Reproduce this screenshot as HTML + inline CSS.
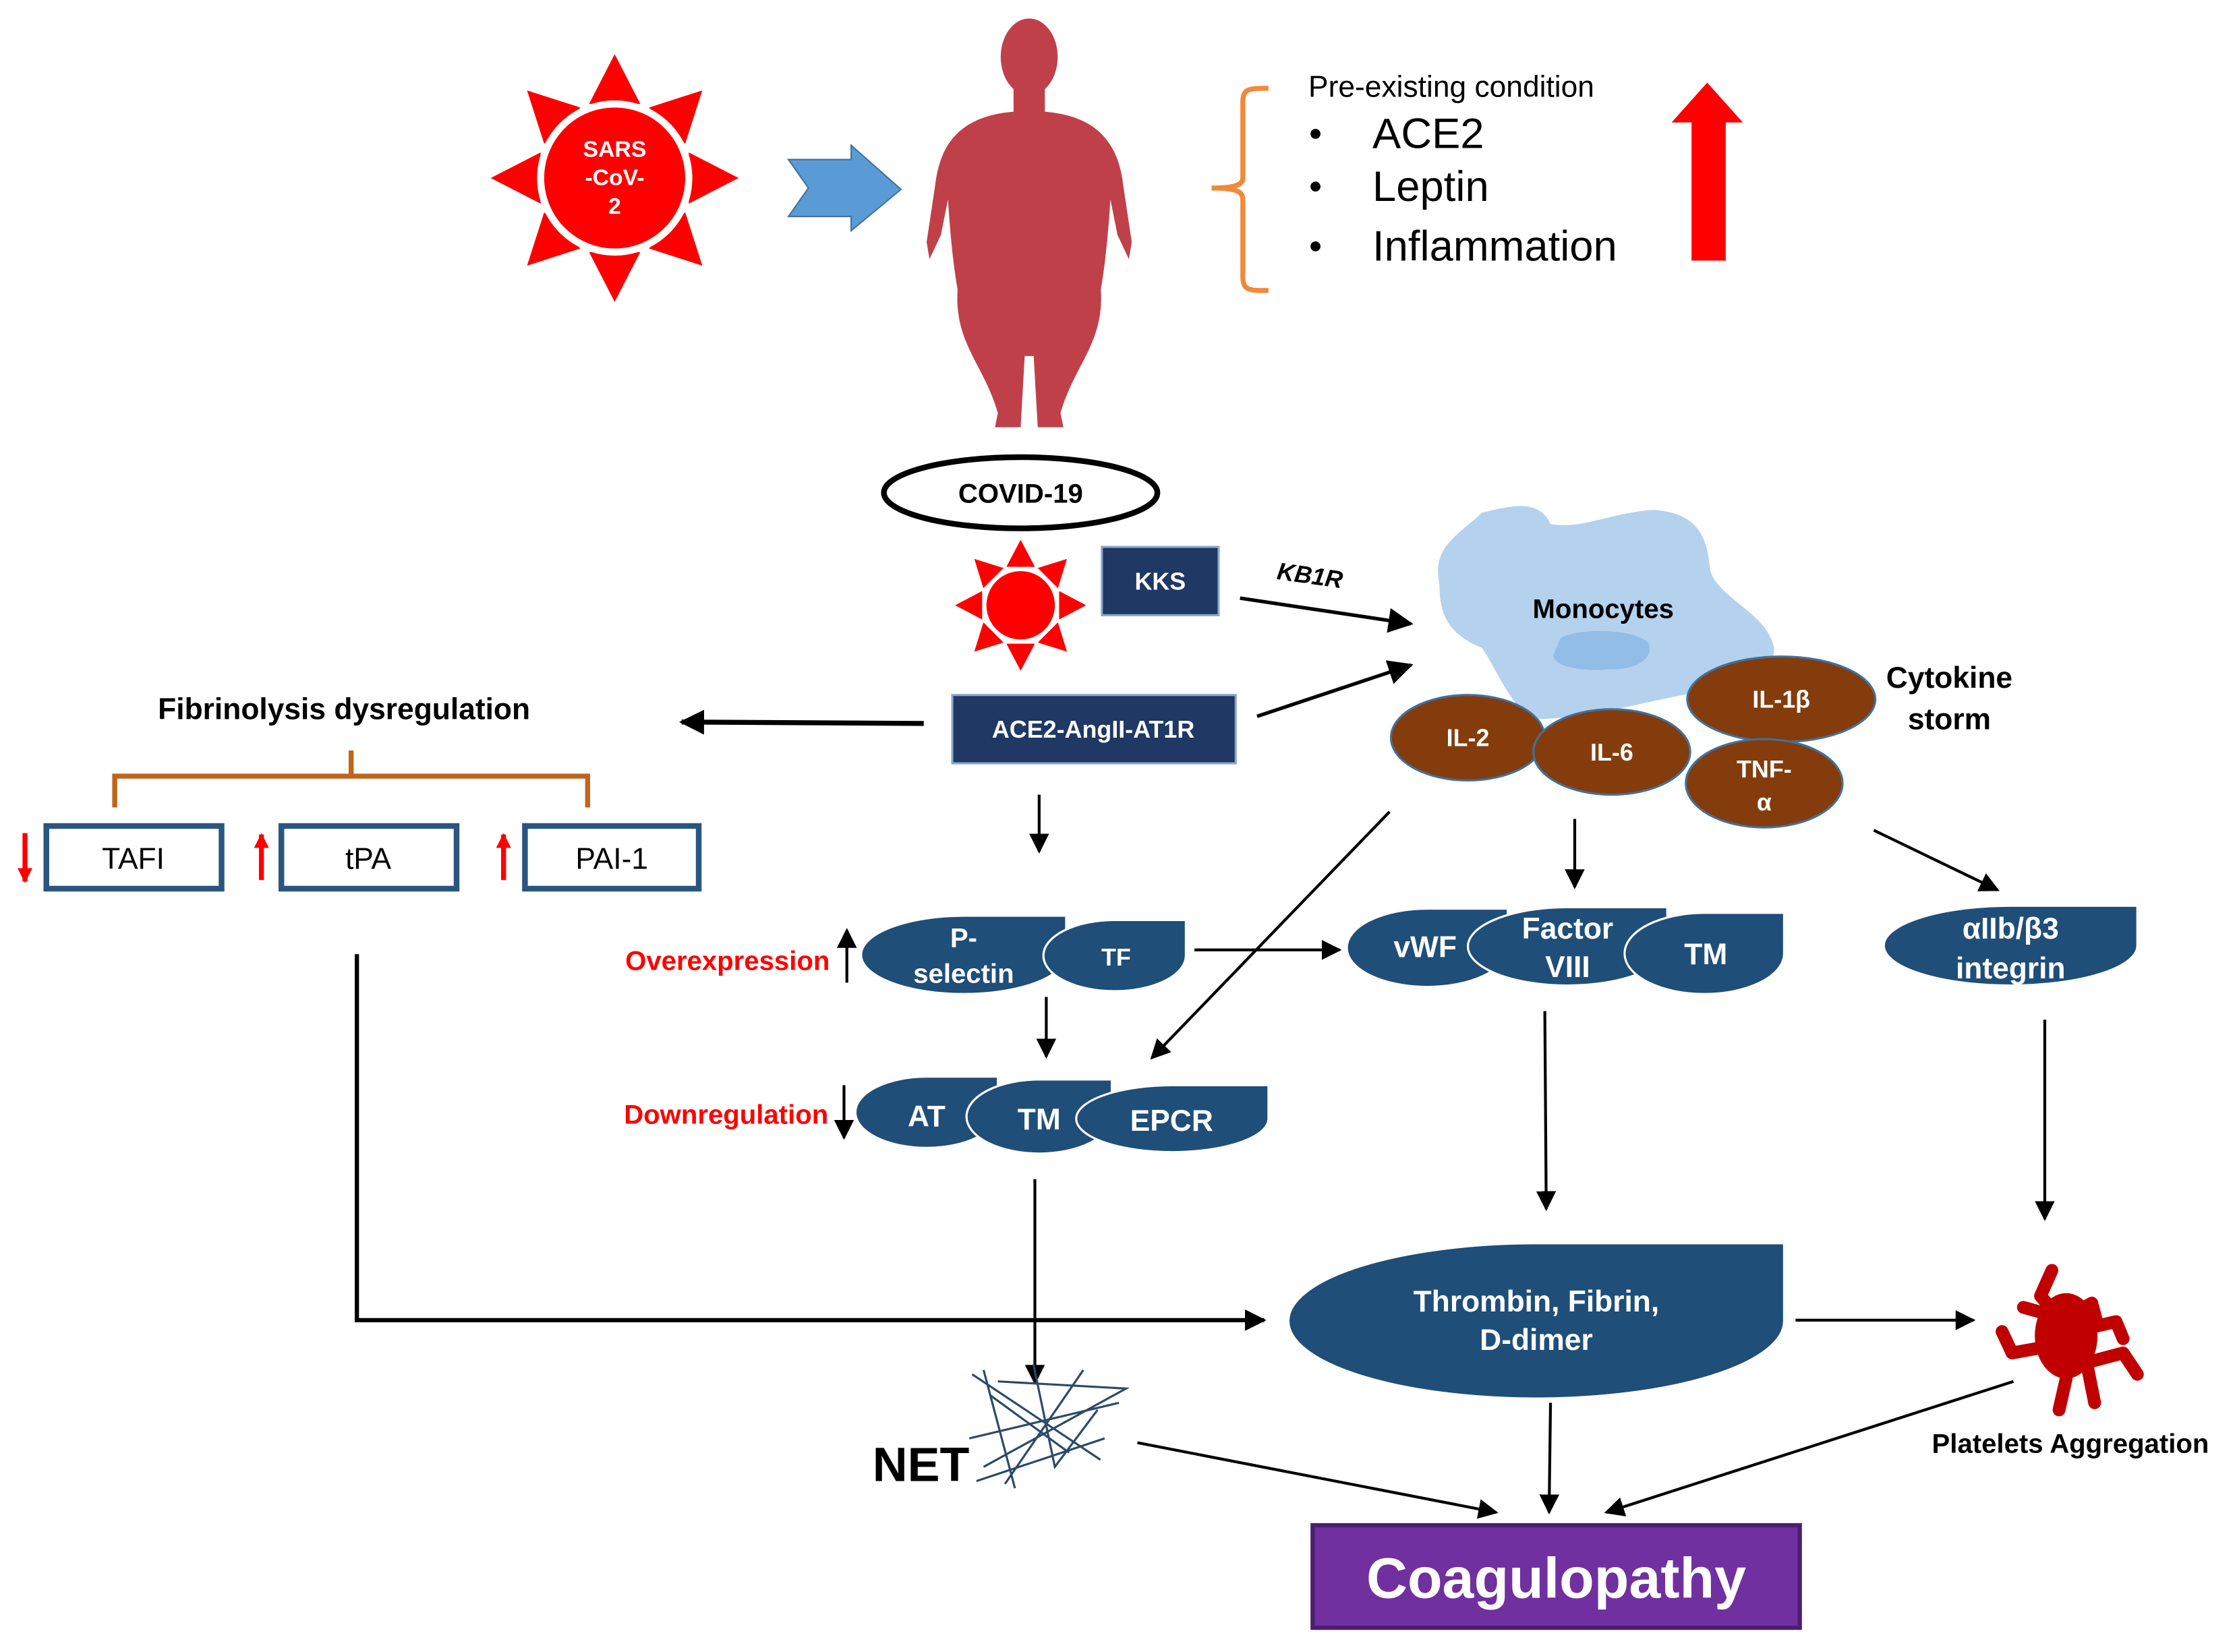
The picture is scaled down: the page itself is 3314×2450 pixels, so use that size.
<!DOCTYPE html>
<html><head><meta charset="utf-8"><style>html,body{margin:0;padding:0;background:#fff}svg{display:block}</style></head>
<body>
<svg width="3314" height="2450" viewBox="0 0 1568 1160" xmlns="http://www.w3.org/2000/svg" font-family="Liberation Sans, sans-serif">
<defs>
<marker id="ah" viewBox="0 0 10 10" refX="9" refY="5" markerWidth="5" markerHeight="5" orient="auto-start-reverse" markerUnits="strokeWidth"><path d="M0,0 L10,5 L0,10 Z" fill="#000"/></marker>
<marker id="ahs" viewBox="0 0 10 10" refX="9" refY="5" markerWidth="7" markerHeight="7" orient="auto" markerUnits="strokeWidth"><path d="M0,0 L10,5 L0,10 Z" fill="#000"/></marker>
<marker id="ahr" viewBox="0 0 10 10" refX="9" refY="5" markerWidth="3" markerHeight="3" orient="auto" markerUnits="strokeWidth"><path d="M0,0 L10,5 L0,10 Z" fill="#f00"/></marker>
</defs>
<rect width="1568" height="1160" fill="#fff"/>

<!-- big sun -->
<g fill="#f00">
<g id="ray"><polygon points="431,38 413,73 449,73"/></g>
<use href="#ray" transform="rotate(45 431 125)"/><use href="#ray" transform="rotate(90 431 125)"/><use href="#ray" transform="rotate(135 431 125)"/><use href="#ray" transform="rotate(180 431 125)"/><use href="#ray" transform="rotate(225 431 125)"/><use href="#ray" transform="rotate(270 431 125)"/><use href="#ray" transform="rotate(315 431 125)"/>
<circle cx="431" cy="125" r="52" stroke="#fff" stroke-width="5"/>
</g>
<g fill="#fff" font-weight="bold" font-size="16" text-anchor="middle"><text x="431" y="110">SARS</text><text x="431" y="130">-CoV-</text><text x="431" y="150">2</text></g>

<!-- blue arrow -->
<polygon points="553,112 597,112 597,102 632,133 597,162 597,152 553,152 567,132" fill="#5b9bd5" stroke="#41719c" stroke-width="1"/>

<!-- body -->
<g fill="#c0404a">
<ellipse cx="722" cy="40" rx="20" ry="27"/>
<rect x="711" y="55" width="22" height="30"/>
<path d="M722,78 C680,78 660,95 656,130 L650,170 L652,182 L660,165 L665,140 C670,220 680,240 690,250 L722,250 L754,250 C764,240 774,220 779,140 L784,165 L792,182 L794,170 L788,130 C784,95 764,78 722,78 Z"/>
<path d="M672,200 C668,240 690,255 700,290 L698,300 L716,300 L720,230 L724,230 L728,300 L746,300 L744,290 C754,255 776,240 772,200 Z"/>
</g>

<!-- brace -->
<path d="M890,62 C876,62 872,62 872,72 L872,125 C872,130 866,132 850,132 C866,132 872,134 872,140 L872,194 C872,204 876,204 890,204" fill="none" stroke="#f08a3a" stroke-width="3.5"/>
<text x="918" y="68" font-size="21">Pre-existing condition</text>
<g font-size="30"><circle cx="923" cy="94" r="3.5"/><text x="963" y="104">ACE2</text>
<circle cx="923" cy="131" r="3.5"/><text x="963" y="141">Leptin</text>
<circle cx="923" cy="173" r="3.5"/><text x="963" y="183">Inflammation</text></g>
<polygon points="1198,58 1223,86 1211,86 1211,183 1187,183 1187,86 1173,86" fill="#f00"/>

<!-- COVID -->
<ellipse cx="716" cy="346" rx="96" ry="25" fill="#fff" stroke="#000" stroke-width="4"/>
<text x="716" y="353" font-size="19" font-weight="bold" text-anchor="middle">COVID-19</text>

<!-- small sun -->
<g fill="#f00">
<g id="ray2"><polygon points="716,379 706,398 726,398"/></g>
<use href="#ray2" transform="rotate(45 716 425)"/><use href="#ray2" transform="rotate(90 716 425)"/><use href="#ray2" transform="rotate(135 716 425)"/><use href="#ray2" transform="rotate(180 716 425)"/><use href="#ray2" transform="rotate(225 716 425)"/><use href="#ray2" transform="rotate(270 716 425)"/><use href="#ray2" transform="rotate(315 716 425)"/>
<circle cx="716" cy="425" r="25" stroke="#fff" stroke-width="2"/>
</g>

<rect x="773" y="384" width="82" height="48" fill="#1f3864" stroke="#8ea9c8" stroke-width="1.5"/>
<text x="814" y="414" fill="#fff" font-size="17" font-weight="bold" text-anchor="middle">KKS</text>
<text x="896" y="410" font-size="17" font-weight="bold" font-style="italic" transform="rotate(8 920 404)">KB1R</text>
<line x1="870" y1="420" x2="990" y2="438" stroke="#000" stroke-width="2.5" marker-end="url(#ahs)"/>

<rect x="668" y="488" width="199" height="48" fill="#1f3864" stroke="#8ea9c8" stroke-width="1.5"/>
<text x="767" y="518" fill="#fff" font-size="17" font-weight="bold" text-anchor="middle">ACE2-AngII-AT1R</text>
<line x1="882" y1="503" x2="990" y2="467" stroke="#000" stroke-width="2.5" marker-end="url(#ahs)"/>

<!-- monocyte -->
<path d="M1040,360 C1060,355 1080,350 1088,368 C1110,372 1130,360 1160,358 C1190,360 1198,375 1200,400 C1205,420 1240,430 1245,455 C1245,470 1235,478 1200,485 C1160,490 1120,505 1075,505 C1060,495 1050,470 1040,455 C1015,445 1010,430 1010,410 C1005,385 1020,378 1040,360 Z" fill="#b4d2ee"/>
<path d="M1095,448 C1110,440 1150,442 1157,452 C1160,462 1150,470 1130,470 C1110,472 1090,468 1090,460 Z" fill="#92bde6"/>
<text x="1125" y="434" font-size="19" font-weight="bold" text-anchor="middle">Monocytes</text>

<g fill="#843c0c" stroke="#41719c" stroke-width="1.5">
<ellipse cx="1250" cy="491" rx="66" ry="30"/>
<ellipse cx="1030" cy="518" rx="54" ry="30"/>
<ellipse cx="1131" cy="528" rx="55" ry="30"/>
<ellipse cx="1238" cy="550" rx="55" ry="31"/>
</g>
<g fill="#fff" font-size="17" font-weight="bold" text-anchor="middle">
<text x="1250" y="497">IL-1β</text><text x="1030" y="524">IL-2</text><text x="1131" y="534">IL-6</text>
<text x="1238" y="546">TNF-</text><text x="1238" y="569">α</text></g>
<g font-size="21" font-weight="bold" text-anchor="middle"><text x="1368" y="483">Cytokine</text><text x="1368" y="512">storm</text></g>

<!-- fibrinolysis -->
<text x="241" y="505" font-size="21" font-weight="bold" text-anchor="middle">Fibrinolysis dysregulation</text>
<line x1="648" y1="508" x2="478" y2="507" stroke="#000" stroke-width="3.5" marker-end="url(#ah)"/>
<path d="M80,567 V545 H412 V567 M246,545 V527" fill="none" stroke="#c0651b" stroke-width="3.5"/>
<g fill="#fff" stroke="#2a5580" stroke-width="4">
<rect x="32" y="580" width="123" height="44"/><rect x="197" y="580" width="123" height="44"/><rect x="368" y="580" width="122" height="44"/></g>
<g font-size="21" text-anchor="middle"><text x="93" y="610">TAFI</text><text x="258" y="610">tPA</text><text x="429" y="610">PAI-1</text></g>
<g stroke="#f00" stroke-width="3.5">
<line x1="17" y1="585" x2="17" y2="619" marker-end="url(#ahr)"/>
<line x1="183" y1="618" x2="183" y2="586" marker-end="url(#ahr)"/>
<line x1="353" y1="618" x2="353" y2="586" marker-end="url(#ahr)"/></g>
<path d="M250,670 V927 H887" fill="none" stroke="#000" stroke-width="3" marker-end="url(#ah)"/>

<!-- arrows -->
<g stroke="#000" stroke-width="2" fill="none" marker-end="url(#ahs)">
<line x1="729" y1="558" x2="729" y2="598"/>
<line x1="838" y1="667" x2="940" y2="667"/>
<line x1="1105" y1="575" x2="1105" y2="623"/>
<line x1="1315" y1="583" x2="1402" y2="625"/>
<line x1="975" y1="570" x2="808" y2="743"/>
<line x1="734" y1="700" x2="734" y2="742"/>
<line x1="726" y1="828" x2="726" y2="971"/>
<line x1="1084" y1="710" x2="1085" y2="849"/>
<line x1="1435" y1="716" x2="1435" y2="856"/>
<line x1="1260" y1="927" x2="1385" y2="927"/>
<line x1="798" y1="1013" x2="1050" y2="1062"/>
<line x1="1088" y1="985" x2="1087" y2="1062"/>
<line x1="1413" y1="970" x2="1127" y2="1062"/>
<line x1="594" y1="690" x2="594" y2="653"/>
<line x1="592" y1="762" x2="592" y2="799"/>
</g>

<g fill="#f00" font-size="19" font-weight="bold" text-anchor="end"><text x="582" y="681">Overexpression</text><text x="581" y="789">Downregulation</text></g>

<!-- teardrops -->
<g fill="#1f4e79" stroke="#fff" stroke-width="1.5">
<path d="M748,643 V670.5 A72,27.5 0 0 1 676,698 A72,27.5 0 0 1 604,670.5 A72,27.5 0 0 1 676,643 Z"/>
<path d="M832,646 V671 A50,25 0 0 1 782,696 A50,25 0 0 1 732,671 A50,25 0 0 1 782,646 Z"/>
<path d="M1058,638 V665.5 A56.5,27.5 0 0 1 1001.5,693 A56.5,27.5 0 0 1 945,665.5 A56.5,27.5 0 0 1 1001.5,638 Z"/>
<path d="M1170,637 V664.5 A70,27.5 0 0 1 1100,692 A70,27.5 0 0 1 1030,664.5 A70,27.5 0 0 1 1100,637 Z"/>
<path d="M1252,641 V669.5 A56,28.5 0 0 1 1196,698 A56,28.5 0 0 1 1140,669.5 A56,28.5 0 0 1 1196,641 Z"/>
<path d="M1500,636 V664 A89,28 0 0 1 1411,692 A89,28 0 0 1 1322,664 A89,28 0 0 1 1411,636 Z"/>
<path d="M700,756 V781 A50,25 0 0 1 650,806 A50,25 0 0 1 600,781 A50,25 0 0 1 650,756 Z"/>
<path d="M780,758 V784 A51,26 0 0 1 729,810 A51,26 0 0 1 678,784 A51,26 0 0 1 729,758 Z"/>
<path d="M890,762 V785.5 A67.5,23.5 0 0 1 822.5,809 A67.5,23.5 0 0 1 755,785.5 A67.5,23.5 0 0 1 822.5,762 Z"/>
<path d="M1252,873 V927.5 A174,54.5 0 0 1 1078,982 A174,54.5 0 0 1 904,927.5 A174,54.5 0 0 1 1078,873 Z"/>
</g>
<g fill="#fff" font-weight="bold" text-anchor="middle" font-size="19">
<text x="676" y="665">P-</text><text x="676" y="690">selectin</text>
<text x="783" y="678" font-size="17">TF</text>
<text x="1000" y="672" font-size="21">vWF</text>
<text x="1100" y="659" font-size="21">Factor</text><text x="1100" y="686" font-size="21">VIII</text>
<text x="1197" y="677" font-size="21">TM</text>
<text x="1411" y="659" font-size="21">αIIb/β3</text><text x="1411" y="687" font-size="21">integrin</text>
<text x="650" y="791" font-size="21">AT</text>
<text x="729" y="793" font-size="21">TM</text>
<text x="822" y="794" font-size="21">EPCR</text>
<text x="1078" y="921" font-size="21">Thrombin, Fibrin,</text>
<text x="1078" y="948" font-size="21">D-dimer</text>
</g>

<!-- platelet -->
<g fill="#c00000">
<ellipse cx="1450" cy="938" rx="22" ry="30"/>
</g>
<g fill="none" stroke="#c00000" stroke-width="9" stroke-linecap="round" stroke-linejoin="round">
<path d="M1440,892 L1432,910 L1445,925 L1420,918 M1445,925 L1440,945 L1465,960 L1470,985 M1440,945 L1412,950 L1405,935 M1440,945 L1450,925 L1468,915 L1472,930 M1460,958 L1490,950 L1500,965 M1455,935 L1485,928 L1490,940 M1450,968 L1445,990"/>
</g>
<text x="1453" y="1020" font-size="19" font-weight="bold" text-anchor="middle">Platelets Aggregation</text>

<!-- NET -->
<g stroke="#2b4a6a" stroke-width="1.5" fill="none">
<path d="M682,965 L772,1025 M690,962 L712,1045 M700,970 L790,975 L690,1030 M760,962 L705,1042 M680,1010 L785,985 M725,958 L740,1030 L770,990 M685,1040 L775,1010 M695,980 L750,1020"/>
</g>
<text x="612" y="1040" font-size="34" font-weight="bold">NET</text>

<!-- coagulopathy -->
<rect x="921" y="1071" width="342" height="72" fill="#7030a0" stroke="#4b1f6e" stroke-width="3"/>
<text x="1092" y="1122" font-size="40" font-weight="bold" fill="#fff" text-anchor="middle">Coagulopathy</text>
</svg>
</body></html>
